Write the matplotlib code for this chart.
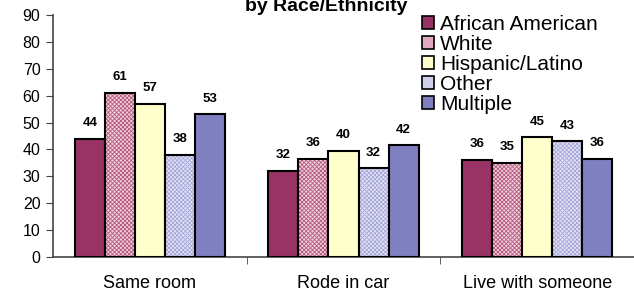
import matplotlib
matplotlib.use("Agg")
import matplotlib.pyplot as plt
import numpy as np
from matplotlib.patches import Patch

categories = ["Same room", "Rode in car", "Live with someone"]
series_names = ["African American", "White", "Hispanic/Latino", "Other", "Multiple"]
values = {
    "African American": [44, 32, 36],
    "White": [61, 36.5, 35],
    "Hispanic/Latino": [57, 39.5, 44.5],
    "Other": [38, 33, 43],
    "Multiple": [53, 41.5, 36.5],
}
labels = {
    "African American": ["44", "32", "36"],
    "White": ["61", "36", "35"],
    "Hispanic/Latino": ["57", "40", "45"],
    "Other": ["38", "32", "43"],
    "Multiple": ["53", "42", "36"],
}
yticks = [0, 10, 20, 30, 40, 50, 60, 70, 80, 90]

face = ["#993366", "#f2d0dc", "#ffffcc", "#e4e4f6", "#8080c0"]
hatchcol = [None, "#b45a80", None, "#a6a6d8", None]
legend_face = ["#993366", "#e0a8c0", "#ffffcc", "#d0d0ee", "#8080c0"]

plt.rcParams["font.family"] = ["Liberation Sans", "DejaVu Sans"]
plt.rcParams["hatch.linewidth"] = 0.6
fig = plt.figure(figsize=(6.34, 2.93), dpi=100)
ax = fig.add_axes([53/634, 36/293, 1 - 53/634, 242/293])

x = np.arange(len(categories))
n = len(series_names)
bw = 0.155
for i, name in enumerate(series_names):
    pos = x + (i - (n - 1) / 2) * bw
    vals = values[name]
    if hatchcol[i] is not None:
        ax.bar(pos, vals, bw, facecolor=face[i], edgecolor=hatchcol[i],
               hatch="xxxxxxxx", linewidth=0, zorder=2)
        ax.bar(pos, vals, bw, facecolor="none", edgecolor="black",
               linewidth=1.5, zorder=3)
    else:
        ax.bar(pos, vals, bw, facecolor=face[i], edgecolor="black",
               linewidth=1.5, zorder=3)
    for px, v, t in zip(pos, vals, labels[name]):
        ax.annotate(t, (px, v), xytext=(0, 7), textcoords="offset points",
                    ha="center", va="bottom", fontsize=9.5, fontweight="bold")

ax.set_xlim(-0.5, 2.5)
ax.set_ylim(0, 90)
ax.set_yticks(yticks)
ax.set_yticklabels([str(t) for t in yticks], fontsize=11.5)
ax.set_xticks(x)
ax.set_xticklabels(categories, fontsize=13)
ax.tick_params(axis="x", length=0, pad=13)
ax.set_xticks([0.5, 1.5], minor=True)
ax.tick_params(axis="x", which="minor", length=5, direction="out", color="#444444")
ax.tick_params(axis="y", length=5, direction="out", color="#444444", pad=4)
for s in ["top", "right"]:
    ax.spines[s].set_visible(False)
for s in ["left", "bottom"]:
    ax.spines[s].set_color("#444444")
    ax.spines[s].set_linewidth(1.2)

handles = [Patch(facecolor=legend_face[i], edgecolor="black", linewidth=1.2)
           for i in range(n)]
leg = ax.legend(handles, series_names, loc="upper left", bbox_to_anchor=(0.62, 1.035),
                frameon=False, fontsize=15, handlelength=0.6, handleheight=0.6,
                handletextpad=0.3, labelspacing=0.05, borderaxespad=0)

fig.text(0.515, 1 - 11/293, "by Race/Ethnicity", ha="center", va="baseline",
         fontsize=14, fontweight="bold")

fig.savefig("out.png", dpi=100)
